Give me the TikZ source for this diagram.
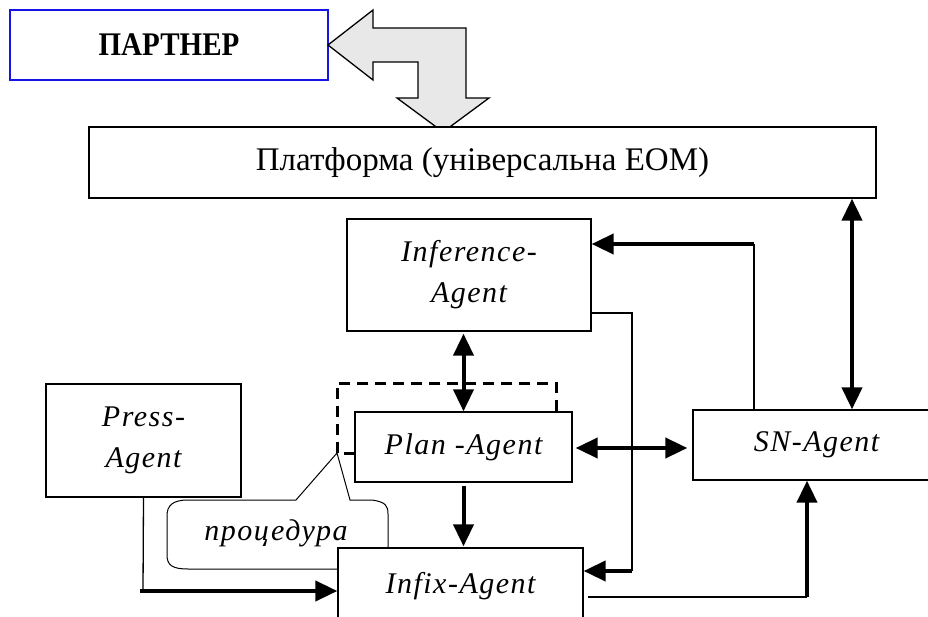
\documentclass[tikz,border=0pt]{standalone}
\usepackage{fontspec}
\setmainfont{Liberation Serif}
\newfontfamily\agentfont[LetterSpace=5]{Liberation Serif}
\usetikzlibrary{arrows.meta}
\definecolor{arrowgrey}{RGB}{232,232,232}
\definecolor{partnerblue}{RGB}{20,20,230}
\begin{document}
\begin{tikzpicture}[x=1pt,y=-1pt,
  box/.style={draw, line width=1.3pt, fill=white, inner sep=0pt, align=center},
  agent/.style={box, font=\agentfont\fontsize{30}{41}\selectfont\itshape},
  thin link/.style={line width=1.3pt},
  bigtip/.tip={Triangle[length=22pt,width=20pt]},
  flow/.style={line width=4pt, -{bigtip}},
  both/.style={line width=4pt, {bigtip}-{bigtip}},
  dashframe/.style={line width=3pt, dash pattern=on 11pt off 7pt},
]
\useasboundingbox (0,0) rectangle (928,617);

% partner and the two-way block arrow
\node[box, draw=partnerblue, line width=1.5pt, minimum width=318pt, minimum height=70pt,
      font=\fontsize{33}{36}\selectfont\bfseries] (partner) at (169,45) {\scalebox{0.88}[1]{ПАРТНЕР}};
\draw[line width=1.3pt, fill=arrowgrey]
  (328,45) -- (373,10) -- (373,28) -- (466,28) -- (466,98) -- (489,98) -- (443,132)
  -- (397,98) -- (418,98) -- (418,62) -- (373,62) -- (373,80) -- cycle;

% platform
\node[box, minimum width=787pt, minimum height=71pt,
      font=\fontsize{33}{36}\selectfont] (platform) at (482.5,162.5) {Платформа (універсальна ЕОМ)};

% agents
\node[agent, minimum width=244pt, minimum height=112pt] (inference) at (469,275) {Inference-\\Agent};
\node[agent, minimum width=195pt, minimum height=113pt] (press) at (143.5,440.5) {Press-\\Agent};
\node[agent, minimum width=217pt, minimum height=70pt] (plan) at (463.5,447) {Plan -Agent};
\node[agent, minimum width=247pt, minimum height=70pt] (sn) at (816.5,445) {SN-Agent};

% procedure frame around the plan agent
\draw[dashframe] (plan.north -| 556,0) -- (556,383) -- (337,383) -- (337,453) -- (plan.west |- 0,453);

% speech bubble
\draw[line width=1pt, fill=white]
  (296,500) -- (337,453) -- (350,500) -- (372,500)
  .. controls (386,502) and (388,506) .. (388,514) -- (388,569) -- (188,569)
  .. controls (172,569) and (167,565) .. (167,555) -- (167,516)
  .. controls (167,506) and (172,500) .. (188,500) -- cycle;
\node[font=\agentfont\fontsize{30}{36}\selectfont\itshape] (proc) at (276,533) {процедура};

\node[agent, minimum width=245pt, minimum height=76pt] (infix) at (460.5,586) {Infix-Agent};

% turning points of the connectors
\coordinate (ps) at (852,0);
\coordinate (si) at (754,244);
\coordinate (ii) at (632,313);
\coordinate (id) at (632,571);
\coordinate (xs) at (807,597);
\coordinate (pi) at (143,591);

% connectors
\draw[both, shorten >=2pt] (plan.north) -- (plan.north |- inference.south);
\draw[flow, shorten >=1pt] (plan.south) ++(0,3) -- (plan.south |- infix.north);
\draw[both, shorten <=3pt, shorten >=5pt] (plan.east |- 0,448) -- (sn.west |- 0,448);
\draw[both] (ps |- platform.south) -- (ps |- sn.north);
\draw[thin link] (si |- sn.north) -- (si);
\draw[flow] (si) -- (si -| inference.east);
\draw[thin link] (inference.east |- ii) -- (ii) -- (id);
\draw[flow] (id) -- (id -| infix.east);
\draw[thin link] (infix.east |- xs) ++(4,0) -- (xs);
\draw[flow] (xs) -- (xs |- sn.south);
\draw[thin link] (press.south) -- (pi);
\draw[flow] (pi) ++(-3,0) -- (pi -| infix.west);
\end{tikzpicture}
\end{document}
